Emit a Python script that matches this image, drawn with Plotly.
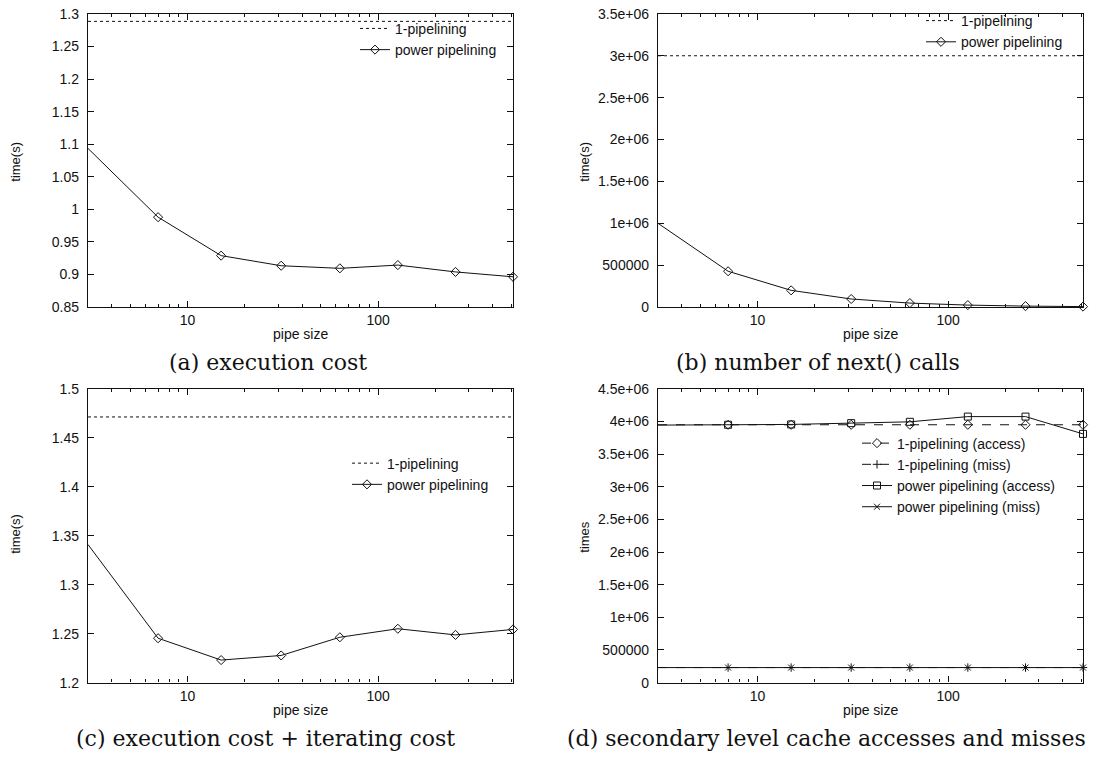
import math
import plotly.graph_objects as go

# ---------------- data ----------------
pipe_size = [3, 7, 15, 31, 63, 127, 255, 511]

# (a) execution cost
a_one_pipelining = [1.2885, 1.2885, 1.2885, 1.2885, 1.2885, 1.2885, 1.2885, 1.2885]
a_power_pipelining = [1.0935, 0.988, 0.929, 0.9135, 0.9095, 0.9145, 0.904, 0.8965]

# (b) number of next() calls
b_one_pipelining = [3000000, 3000000, 3000000, 3000000, 3000000, 3000000, 3000000, 3000000]
b_power_pipelining = [1000000, 428000, 200000, 97000, 48000, 24000, 12000, 6000]

# (c) execution cost + iterating cost
c_one_pipelining = [1.4713, 1.4713, 1.4713, 1.4713, 1.4713, 1.4713, 1.4713, 1.4713]
c_power_pipelining = [1.341, 1.2453, 1.223, 1.2277, 1.2463, 1.255, 1.2487, 1.2543]

# (d) secondary level cache accesses and misses
d_one_access = [3950000, 3950000, 3950000, 3950000, 3950000, 3950000, 3950000, 3950000]
d_one_miss = [230000, 230000, 230000, 230000, 230000, 230000, 230000, 230000]
d_power_access = [3945000, 3950000, 3955000, 3975000, 3995000, 4075000, 4075000, 3810000]
d_power_miss = [230000, 230000, 230000, 230000, 230000, 230000, 230000, 230000]

# tick labels
x_major = [10, 100]
x_major_text = ["10", "100"]
x_minor = [4, 5, 6, 7, 8, 9, 20, 30, 40, 50, 60, 70, 80, 90, 200, 300, 400, 500]

a_yticks = [0.85, 0.9, 0.95, 1.0, 1.05, 1.1, 1.15, 1.2, 1.25, 1.3]
a_ytext = ["0.85", "0.9", "0.95", "1", "1.05", "1.1", "1.15", "1.2", "1.25", "1.3"]
b_yticks = [0, 500000, 1000000, 1500000, 2000000, 2500000, 3000000, 3500000]
b_ytext = ["0", "500000", "1e+06", "1.5e+06", "2e+06", "2.5e+06", "3e+06", "3.5e+06"]
c_yticks = [1.2, 1.25, 1.3, 1.35, 1.4, 1.45, 1.5]
c_ytext = ["1.2", "1.25", "1.3", "1.35", "1.4", "1.45", "1.5"]
d_yticks = [0, 500000, 1000000, 1500000, 2000000, 2500000, 3000000, 3500000, 4000000, 4500000]
d_ytext = ["0", "500000", "1e+06", "1.5e+06", "2e+06", "2.5e+06", "3e+06", "3.5e+06", "4e+06", "4.5e+06"]

captions = ["(a) execution cost", "(b) number of next() calls",
            "(c) execution cost + iterating cost", "(d) secondary level cache accesses and misses"]

# ---------------- figure ----------------
W, H = 1104, 765
SANS = "Liberation Sans, Arial, sans-serif"
SERIF = "DejaVu Serif, serif"
BLACK = "#111111"

fig = go.Figure()

def px_x(p):
    return p / W

def px_y(p):
    return 1 - p / H

left_dom = [px_x(88), px_x(513)]
right_dom = [px_x(658), px_x(1083)]
top_dom = [px_y(305.5), px_y(6)]
bot_dom = [px_y(689), px_y(389)]

def line_trace(x, y, name, xa, ya, legend, dash="solid", symbol=None, msize=7):
    mode = "lines+markers" if symbol else "lines"
    return go.Scatter(
        x=x, y=y, name=name, mode=mode, xaxis=xa, yaxis=ya, legend=legend,
        line=dict(color=BLACK, width=1, dash=dash),
        marker=dict(symbol=symbol or "circle", size=msize, color=BLACK,
                    line=dict(color=BLACK, width=1)),
        cliponaxis=False,
    )

# (a)
fig.add_trace(line_trace(pipe_size, a_one_pipelining, "1-pipelining", "x", "y", "legend", dash="dot"))
fig.add_trace(line_trace(pipe_size, a_power_pipelining, "power pipelining", "x", "y", "legend", symbol="diamond-open", msize=7))
# (b)
fig.add_trace(line_trace(pipe_size, b_one_pipelining, "1-pipelining", "x2", "y2", "legend2", dash="dot"))
fig.add_trace(line_trace(pipe_size, b_power_pipelining, "power pipelining", "x2", "y2", "legend2", symbol="diamond-open", msize=7))
# (c)
fig.add_trace(line_trace(pipe_size, c_one_pipelining, "1-pipelining", "x3", "y3", "legend3", dash="dot"))
fig.add_trace(line_trace(pipe_size, c_power_pipelining, "power pipelining", "x3", "y3", "legend3", symbol="diamond-open", msize=7))
# (d)
fig.add_trace(line_trace(pipe_size, d_one_access, "1-pipelining (access)", "x4", "y4", "legend4", dash="dash", symbol="diamond-open", msize=7))
fig.add_trace(line_trace(pipe_size, d_one_miss, "1-pipelining (miss)", "x4", "y4", "legend4", dash="dash", symbol="cross-thin", msize=6))
fig.add_trace(line_trace(pipe_size, d_power_access, "power pipelining (access)", "x4", "y4", "legend4", symbol="square-open", msize=7))
fig.add_trace(line_trace(pipe_size, d_power_miss, "power pipelining (miss)", "x4", "y4", "legend4", symbol="x-thin", msize=6))

xrange_log = [math.log10(pipe_size[0]), math.log10(pipe_size[-1])]

def xaxis(dom, anchor):
    return dict(
        domain=dom, anchor=anchor, type="log", range=xrange_log,
        tickmode="array", tickvals=x_major, ticktext=x_major_text,
        ticks="inside", ticklen=6, tickwidth=1, tickcolor=BLACK,
        minor=dict(tickmode="array", tickvals=x_minor, ticks="inside", ticklen=3,
                   tickwidth=1, tickcolor=BLACK, showgrid=False),
        showline=True, linecolor=BLACK, linewidth=1.3, mirror="allticks",
        showgrid=False, zeroline=False,
        tickfont=dict(family=SANS, size=14, color=BLACK),
    )

def yaxis(dom, anchor, rng, vals, text):
    return dict(
        domain=dom, anchor=anchor, range=rng,
        tickmode="array", tickvals=vals, ticktext=text,
        ticks="inside", ticklen=6, tickwidth=1, tickcolor=BLACK,
        showline=True, linecolor=BLACK, linewidth=1.3, mirror="allticks",
        showgrid=False, zeroline=False, ticklabelstandoff=5,
        tickfont=dict(family=SANS, size=14, color=BLACK),
    )

fig.update_layout(
    xaxis=xaxis(left_dom, "y"),
    yaxis=yaxis(top_dom, "x", [0.85, 1.3], a_yticks, a_ytext),
    xaxis2=xaxis(right_dom, "y2"),
    yaxis2=yaxis(top_dom, "x2", [0, 3500000], b_yticks, b_ytext),
    xaxis3=xaxis(left_dom, "y3"),
    yaxis3=yaxis(bot_dom, "x3", [1.2, 1.5], c_yticks, c_ytext),
    xaxis4=xaxis(right_dom, "y4"),
    yaxis4=yaxis(bot_dom, "x4", [0, 4500000], d_yticks, d_ytext),
)

def legend(xr, ymid):
    return dict(
        x=px_x(xr), y=px_y(ymid), xanchor="right", yanchor="middle",
        bgcolor="rgba(0,0,0,0)", borderwidth=0,
        font=dict(family=SANS, size=14, color=BLACK),
        tracegroupgap=0, itemwidth=30,
    )

fig.update_layout(
    width=W, height=H,
    margin=dict(l=0, r=0, t=0, b=0),
    paper_bgcolor="white", plot_bgcolor="white",
    showlegend=True,
    legend=legend(502, 32),
    legend2=legend(1068, 24),
    legend3=legend(494, 476),
    legend4=legend(1060, 477),
)

annotations = []
# axis titles
for xc, yc in [(300.5, 333), (870.5, 333), (300.5, 717), (870.5, 717)]:
    annotations.append(dict(x=px_x(xc), y=px_y(yc), xref="paper", yref="paper",
                            text="pipe size", showarrow=False,
                            font=dict(family=SANS, size=14, color=BLACK),
                            xanchor="center", yanchor="middle"))
for xc, yc, t in [(16, 157, "time(s)"), (585, 157, "time(s)"), (16, 537, "time(s)"), (585, 540, "times")]:
    annotations.append(dict(x=px_x(xc), y=px_y(yc), xref="paper", yref="paper",
                            text=t, showarrow=False, textangle=-90,
                            font=dict(family=SANS, size=13, color=BLACK),
                            xanchor="center", yanchor="middle"))
# captions
for (xc, yc), t in zip([(268, 362), (818, 362), (265, 746), (826, 746)], captions):
    annotations.append(dict(x=px_x(xc), y=px_y(yc), xref="paper", yref="paper",
                            text=t, showarrow=False,
                            font=dict(family=SERIF, size=22, color=BLACK),
                            xanchor="center", yanchor="middle"))
fig.update_layout(annotations=annotations)

fig.write_html("out.html", config={"displayModeBar": False},
               post_script="document.body.style.margin='0px';")
